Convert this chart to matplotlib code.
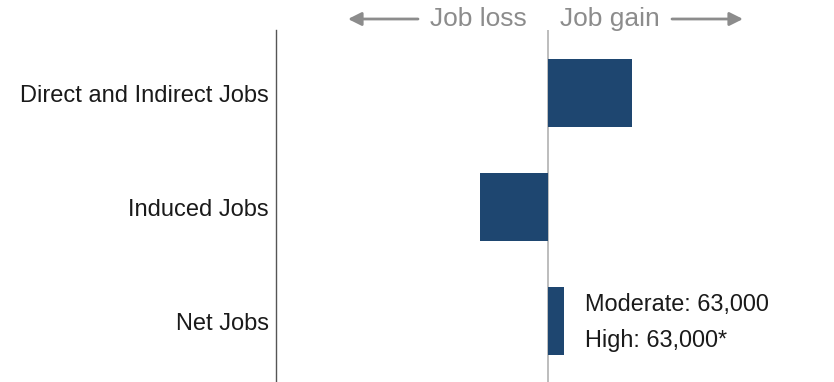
import matplotlib.pyplot as plt

plt.rcParams['font.family'] = ['Liberation Sans', 'DejaVu Sans']

# job impact by category
categories = ["Direct and Indirect Jobs", "Induced Jobs", "Net Jobs"]
jobs = [330000, -267000, 63000]
net_notes = ["Moderate: 63,000", "High: 63,000*"]

bar_color = "#1e4670"
grey = "#8c8c8c"

fig = plt.figure(figsize=(8.34, 3.82), dpi=100)
ax = fig.add_axes([276 / 834, 0, 1 - 276 / 834, 352 / 382])

pos = list(range(len(categories)))
ax.barh(pos, jobs, height=0.6, color=bar_color, zorder=2)
ax.axvline(0, color="#bdbdbd", lw=1.4, zorder=1)

ax.set_xlim(-1071000, 1126000)
ax.set_ylim(2.535, -0.553)
ax.set_yticks(pos)
ax.set_yticklabels(categories, fontsize=17, color="#1a1a1a")
ax.tick_params(axis="y", length=0, pad=5)
ax.set_xticks([])
for s in ["top", "right", "bottom"]:
    ax.spines[s].set_visible(False)
ax.spines["left"].set_color("#555555")
ax.spines["left"].set_linewidth(1.0)

# labels beside the net bar
ax.annotate(net_notes[0], xy=(jobs[2], pos[2]), xytext=(15, 12),
            textcoords="offset points", fontsize=16.9, color="#1a1a1a",
            va="center", ha="left")
ax.annotate(net_notes[1], xy=(jobs[2], pos[2]), xytext=(15, -14),
            textcoords="offset points", fontsize=16.9, color="#1a1a1a",
            va="center", ha="left")

# direction legend across the top
ty = 1 - 19 / 382
fig.text(527 / 834, ty, "Job loss", ha="right", va="center", fontsize=19, color=grey)
fig.text(560 / 834, ty, "Job gain", ha="left", va="center", fontsize=19, color=grey)
arrow = dict(arrowstyle="-|>,head_length=0.8,head_width=0.4", color=grey, lw=2.0,
             shrinkA=0, shrinkB=0)
fig.add_artist(plt.Annotation("", xy=(348 / 834, ty), xytext=(418 / 834, ty),
                              xycoords="figure fraction", textcoords="figure fraction",
                              arrowprops=arrow))
fig.add_artist(plt.Annotation("", xy=(743 / 834, ty), xytext=(672 / 834, ty),
                              xycoords="figure fraction", textcoords="figure fraction",
                              arrowprops=arrow))

fig.savefig("out.png", dpi=100, facecolor="white")
